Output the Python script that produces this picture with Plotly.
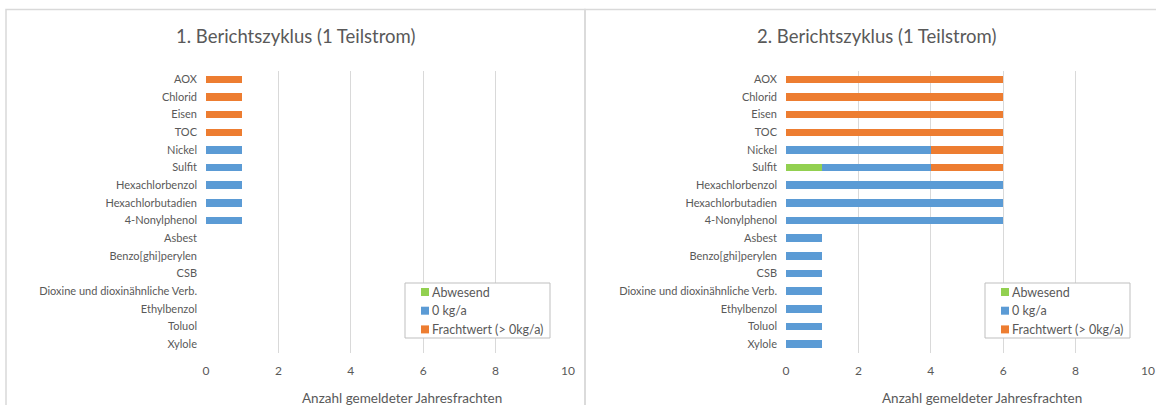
import plotly.graph_objects as go

# Substances, listed top to bottom
substances = [
    "AOX", "Chlorid", "Eisen", "TOC", "Nickel", "Sulfit",
    "Hexachlorbenzol", "Hexachlorbutadien", "4-Nonylphenol", "Asbest",
    "Benzo[ghi]perylen", "CSB", "Dioxine und dioxinähnliche Verb.",
    "Ethylbenzol", "Toluol", "Xylole",
]

series_names = ["Abwesend", "0 kg/a", "Frachtwert (> 0kg/a)"]
series_colors = ["#92d050", "#5b9bd5", "#ed7d31"]

# 1. Berichtszyklus
c1_abwesend = [0, 0, 0, 0, 0, 0, 0, 0, 0, 0, 0, 0, 0, 0, 0, 0]
c1_null = [0, 0, 0, 0, 1, 1, 1, 1, 1, 0, 0, 0, 0, 0, 0, 0]
c1_fracht = [1, 1, 1, 1, 0, 0, 0, 0, 0, 0, 0, 0, 0, 0, 0, 0]

# 2. Berichtszyklus
c2_abwesend = [0, 0, 0, 0, 0, 1, 0, 0, 0, 0, 0, 0, 0, 0, 0, 0]
c2_null = [0, 0, 0, 0, 4, 3, 6, 6, 6, 1, 1, 1, 1, 1, 1, 1]
c2_fracht = [6, 6, 6, 6, 2, 2, 0, 0, 0, 0, 0, 0, 0, 0, 0, 0]

panel_titles = ["1. Berichtszyklus (1 Teilstrom)", "2. Berichtszyklus (1 Teilstrom)"]
x_title = "Anzahl gemeldeter Jahresfrachten"
x_ticks = [0, 2, 4, 6, 8, 10]

W, H = 1156, 405
FONT = "Lato, 'Open Sans', sans-serif"
TXT = "#595959"
GRID = "#d9d9d9"


def px(x):
    return x / W


def py(y):
    return 1 - y / H


panels = [
    dict(series=[c1_abwesend, c1_null, c1_fracht], x0=206, x1=568,
         box=(6, 585), title_x=295.5, legx=405),
    dict(series=[c2_abwesend, c2_null, c2_fracht], x0=786, x1=1148,
         box=(585, 1175), title_x=876, legx=985),
]

fig = go.Figure()
shapes = []
annotations = []
plot_top, plot_bot = 70.5, 353

for i, p in enumerate(panels):
    sfx = "" if i == 0 else str(i + 1)
    for name, color, vals in zip(series_names, series_colors, p["series"]):
        fig.add_trace(go.Bar(
            y=substances, x=vals, name=name, orientation="h",
            marker=dict(color=color, line=dict(width=0)),
            xaxis="x" + sfx, yaxis="y" + sfx, showlegend=False,
            hovertemplate="%{y}: %{x}<extra>" + name + "</extra>",
        ))
    fig.layout["xaxis" + sfx] = dict(
        domain=[px(p["x0"]), px(p["x1"])], range=[0, 10], tickvals=x_ticks,
        showgrid=True, gridcolor=GRID, gridwidth=1, zeroline=False,
        showline=False, ticks="", ticklabelstandoff=9, automargin=False,
        tickfont=dict(family=FONT, size=12, color=TXT),
        anchor="y" + sfx, fixedrange=True,
    )
    fig.layout["yaxis" + sfx] = dict(
        domain=[py(plot_bot), py(plot_top)], type="category",
        categoryorder="array", categoryarray=substances, autorange="reversed",
        showgrid=False, zeroline=False, showline=False, ticks="",
        ticklabelstandoff=8, automargin=False,
        tickfont=dict(family=FONT, size=11, color=TXT),
        anchor="x" + sfx, fixedrange=True,
    )

    # chart area border
    bx0, bx1 = p["box"]
    shapes.append(dict(type="rect", xref="paper", yref="paper",
                       x0=px(bx0), x1=px(bx1), y0=py(420), y1=py(9.5),
                       line=dict(color=GRID, width=1.5), layer="below"))

    # panel title
    annotations.append(dict(text=panel_titles[i], xref="paper", yref="paper",
                            x=px(p["title_x"]), y=py(36),
                            xanchor="center", yanchor="middle", showarrow=False,
                            font=dict(family=FONT, size=18.5, color=TXT)))
    # axis title
    annotations.append(dict(text=x_title, xref="paper", yref="paper",
                            x=px((p["x0"] + p["x1"]) / 2 + 15), y=py(398),
                            xanchor="center", yanchor="middle", showarrow=False,
                            font=dict(family=FONT, size=13.5, color=TXT)))

    # legend box
    lx = p["legx"]
    shapes.append(dict(type="rect", xref="paper", yref="paper",
                       x0=px(lx), x1=px(lx + 145), y0=py(338), y1=py(283),
                       line=dict(color="#bfbfbf", width=1), fillcolor="white",
                       layer="above"))
    for k, (name, color) in enumerate(zip(series_names, series_colors)):
        yc = 292 + k * 18.7
        shapes.append(dict(type="rect", xref="paper", yref="paper",
                           x0=px(lx + 16), x1=px(lx + 24),
                           y0=py(yc + 4), y1=py(yc - 4),
                           line=dict(width=0), fillcolor=color, layer="above"))
        annotations.append(dict(text=name, xref="paper", yref="paper",
                                x=px(lx + 25), y=py(yc), xanchor="left",
                                yanchor="middle", showarrow=False,
                                font=dict(family=FONT, size=12.5, color=TXT)))

fig.update_layout(
    width=W, height=H, margin=dict(l=0, r=0, t=0, b=0, autoexpand=False),
    paper_bgcolor="white", plot_bgcolor="white",
    barmode="stack", bargap=0.57, showlegend=False,
    shapes=shapes, annotations=annotations,
)

fig.write_html("out.html", config={"displayModeBar": False})
